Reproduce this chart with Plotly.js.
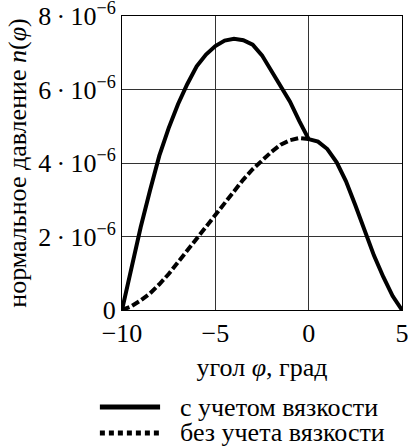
<!DOCTYPE html>
<html>
<head>
<meta charset="utf-8">
<script src="https://cdn.plot.ly/plotly-3.0.1.min.js"></script>
<style>
#chart text, #chart tspan { font-family: 'Liberation Serif', 'Times New Roman', serif !important; }
</style>
</head>
<body style="margin:0;background:#fff">
<div id="chart"></div>
<script>
// angle, degrees
var phiViscous = [-10,-9.5,-9,-8.5,-8,-7.5,-7,-6.5,-6,-5.5,-5,-4.5,-4,-3.5,-3,-2.5,-2,-1.5,-1,-0.5,0,0.5,1,1.5,2,2.5,3,3.5,4,4.5,5];
var pViscous = [0,1.15e-6,2.25e-6,3.25e-6,4.2e-6,4.95e-6,5.6e-6,6.15e-6,6.63e-6,6.95e-6,7.18e-6,7.33e-6,7.38e-6,7.34e-6,7.22e-6,6.93e-6,6.5e-6,6.12e-6,5.67e-6,5.14e-6,4.65e-6,4.58e-6,4.38e-6,4.02e-6,3.5e-6,2.85e-6,2.17e-6,1.48e-6,0.9e-6,0.38e-6,0];
var phiInviscid = [-10,-9.5,-9,-8.5,-8,-7.5,-7,-6.5,-6,-5.5,-5,-4.5,-4,-3.5,-3,-2.5,-2,-1.5,-1,-0.5,0];
var pInviscid = [0,0.1e-6,0.26e-6,0.45e-6,0.7e-6,0.98e-6,1.3e-6,1.62e-6,1.94e-6,2.28e-6,2.6e-6,2.93e-6,3.25e-6,3.55e-6,3.83e-6,4.08e-6,4.3e-6,4.5e-6,4.62e-6,4.68e-6,4.65e-6];
var seriesNames = ['с учетом вязкости','без учета вязкости'];
var xTickVals = [-10,-5,0,5];
var xTickText = ['\u221210','\u22125','0','5'];
var yTickVals = [0,2e-6,4e-6,6e-6,8e-6];
var yTickText = ['0','2\u2009\u00b7\u200910<sup>\u22126</sup>','4\u2009\u00b7\u200910<sup>\u22126</sup>','6\u2009\u00b7\u200910<sup>\u22126</sup>','8\u2009\u00b7\u200910<sup>\u22126</sup>'];

var serif = 'Liberation Serif';
var fs = 26;
var traces = [
  {x: phiViscous, y: pViscous, mode: 'lines', name: seriesNames[0], line: {color: '#000', width: 4}},
  {x: phiInviscid, y: pInviscid, mode: 'lines', name: seriesNames[1], line: {color: '#000', width: 4, dash: '8px,3px'}}
];
var legY = [-0.33, -0.418];
var shapes = [
  {type: 'line', xref: 'paper', yref: 'paper', x0: -0.079, x1: 0.136, y0: legY[0], y1: legY[0], line: {color: '#000', width: 5}},
  {type: 'line', xref: 'paper', yref: 'paper', x0: -0.079, x1: 0.136, y0: legY[1], y1: legY[1], line: {color: '#000', width: 5, dash: '5px,4px'}}
];
var annotations = seriesNames.map(function(n, i){
  return {xref: 'paper', yref: 'paper', x: 0.2, y: legY[i], xanchor: 'left', yanchor: 'middle', text: n, showarrow: false, font: {family: serif, size: fs, color: '#000'}};
});
var layout = {
  width: 408, height: 446,
  margin: {l: 122, r: 6, t: 16, b: 136},
  paper_bgcolor: '#fff', plot_bgcolor: '#fff',
  showlegend: false,
  font: {family: serif, size: fs, color: '#000'},
  xaxis: {
    range: [-10, 5], tickvals: xTickVals, ticktext: xTickText,
    showgrid: true, gridcolor: '#333', gridwidth: 1, zeroline: false,
    showline: true, mirror: true, linecolor: '#000', linewidth: 1, ticks: '',
    ticklabeloverflow: 'allow',
    tickfont: {family: serif, size: fs, color: '#000'},
    title: {text: 'угол <i>φ</i>, град', font: {family: serif, size: fs, color: '#000'}, standoff: 10}
  },
  yaxis: {
    range: [0, 8e-6], tickvals: yTickVals, ticktext: yTickText,
    showgrid: true, gridcolor: '#333', gridwidth: 1, zeroline: false,
    showline: true, mirror: true, linecolor: '#000', linewidth: 1, ticks: '',
    ticklabeloverflow: 'allow',
    tickfont: {family: serif, size: fs, color: '#000'},
    title: {text: 'нормальное давление <i>n</i>(<i>φ</i>)', font: {family: serif, size: fs, color: '#000'}, standoff: 4}
  },
  shapes: shapes,
  annotations: annotations
};
Plotly.newPlot('chart', traces, layout, {staticPlot: true}).then(function(gd){
  var els = gd.querySelectorAll('text');
  for (var i = 0; i < els.length; i++) { els[i].style.setProperty('font-family', "'Liberation Serif', serif", 'important'); }
});
</script>
</body>
</html>
